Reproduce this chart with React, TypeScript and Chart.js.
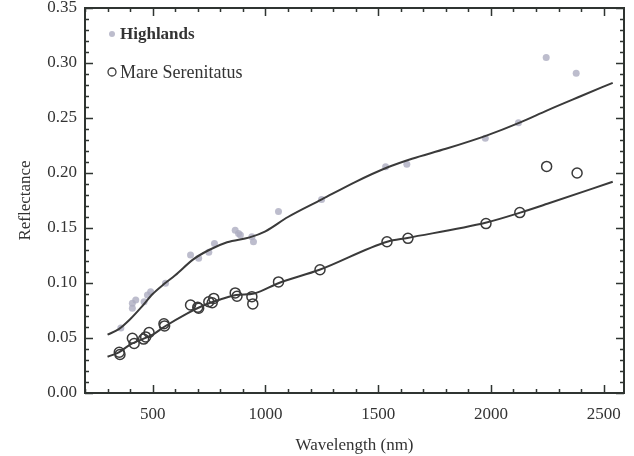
import { useEffect, useRef } from "react";
import { Chart, registerables } from "chart.js";

Chart.register(...registerables);

// Measured reflectance points
const highlandsX = [359, 410, 410, 425, 462, 477, 491, 557, 668, 704, 749, 774, 866, 881, 889, 940, 947, 1058, 1249, 1533, 1627, 1975, 2122, 2245, 2378];
const highlandsY = [0.059, 0.0815, 0.077, 0.0845, 0.083, 0.089, 0.092, 0.0997, 0.1255, 0.1224, 0.128, 0.136, 0.148, 0.145, 0.1436, 0.142, 0.1375, 0.165, 0.176, 0.2057, 0.208, 0.2315, 0.2457, 0.305, 0.2906];

const mareX = [352, 355, 410, 418, 460, 469, 484, 550, 553, 668, 700, 704, 749, 764, 771, 866, 874, 940, 944, 1058, 1242, 1539, 1632, 1978, 2128, 2247, 2382];
const mareY = [0.037, 0.035, 0.0497, 0.045, 0.049, 0.051, 0.055, 0.063, 0.061, 0.080, 0.078, 0.077, 0.083, 0.082, 0.086, 0.091, 0.088, 0.0876, 0.081, 0.101, 0.112, 0.1375, 0.1406, 0.154, 0.164, 0.206, 0.200];

// Fitted curves
const highlandsFitX = [300, 350, 400, 450, 500, 550, 600, 680, 750, 830, 930, 1000, 1100, 1250, 1400, 1540, 1650, 1800, 1980, 2130, 2250, 2400, 2540];
const highlandsFitY = [0.053, 0.058, 0.067, 0.078, 0.090, 0.099, 0.107, 0.1215, 0.130, 0.137, 0.1415, 0.147, 0.160, 0.176, 0.192, 0.205, 0.213, 0.222, 0.234, 0.246, 0.257, 0.270, 0.282];

const mareFitX = [300, 350, 400, 500, 550, 650, 730, 800, 870, 950, 1060, 1240, 1540, 1630, 1980, 2130, 2250, 2540];
const mareFitY = [0.033, 0.037, 0.044, 0.053, 0.060, 0.072, 0.080, 0.085, 0.089, 0.0905, 0.100, 0.112, 0.1375, 0.141, 0.155, 0.164, 0.172, 0.192];

// Axis tick labels
const xTickValues = [500, 1000, 1500, 2000, 2500];
const yTickValues = [0, 0.05, 0.1, 0.15, 0.2, 0.25, 0.3, 0.35];

const legendLabels = ["Highlands", "Mare Serenitatus"];
const xTitle = "Wavelength (nm)";
const yTitle = "Reflectance";

const SERIF = "'Liberation Serif', 'DejaVu Serif', serif";
const INK = "#2f3431";
const TEXT = "#333333";
const HL_COLOR = "rgba(172,172,192,0.8)";

const toPts = (xs: number[], ys: number[]) => xs.map((x, i) => ({ x, y: ys[i] }));

const framePlugin = {
  id: "frameTicks",
  afterDraw(chart: any) {
    const { ctx, chartArea: a, scales } = chart;
    const x = scales.x;
    const y = scales.y;
    ctx.save();
    ctx.strokeStyle = INK;
    ctx.lineWidth = 2;
    ctx.strokeRect(a.left, a.top, a.right - a.left, a.bottom - a.top);
    ctx.lineWidth = 1.5;
    ctx.beginPath();
    for (let v = Math.ceil(x.min / 100) * 100; v <= x.max; v += 100) {
      const px = Math.round(x.getPixelForValue(v)) + 0.5;
      const len = v % 500 === 0 ? 8 : 4;
      ctx.moveTo(px, a.bottom);
      ctx.lineTo(px, a.bottom - len);
      ctx.moveTo(px, a.top);
      ctx.lineTo(px, a.top + len);
    }
    for (let i = 0; i <= 35; i++) {
      const py = Math.round(y.getPixelForValue(i / 100)) + 0.5;
      const len = i % 5 === 0 ? 8 : 4;
      ctx.moveTo(a.left, py);
      ctx.lineTo(a.left + len, py);
      ctx.moveTo(a.right, py);
      ctx.lineTo(a.right - len, py);
    }
    ctx.stroke();
    ctx.restore();
  },
};

const legendPlugin = {
  id: "insideLegend",
  afterDraw(chart: any) {
    const { ctx, chartArea: a } = chart;
    ctx.save();
    ctx.textBaseline = "middle";
    ctx.textAlign = "left";
    const lx = a.left + 27;
    const y1 = a.top + 26;
    const y2 = a.top + 64;
    ctx.beginPath();
    ctx.fillStyle = HL_COLOR;
    ctx.arc(lx, y1, 3, 0, Math.PI * 2);
    ctx.fill();
    ctx.beginPath();
    ctx.strokeStyle = "#3a3a3a";
    ctx.lineWidth = 1.3;
    ctx.arc(lx, y2, 4, 0, Math.PI * 2);
    ctx.stroke();
    ctx.fillStyle = TEXT;
    ctx.font = `bold 17px ${SERIF}`;
    ctx.fillText(legendLabels[0], lx + 8, y1 + 1);
    ctx.font = `18px ${SERIF}`;
    ctx.fillText(legendLabels[1], lx + 8, y2 + 1);
    ctx.restore();
  },
};

export default function App() {
  const ref = useRef<HTMLCanvasElement | null>(null);

  useEffect(() => {
    if (!ref.current) return;
    const chart = new Chart(ref.current, {
      type: "scatter",
      data: {
        datasets: [
          {
            label: legendLabels[0] + " fit",
            data: toPts(highlandsFitX, highlandsFitY),
            showLine: true,
            pointRadius: 0,
            borderColor: "#3a3a3a",
            borderWidth: 2,
            cubicInterpolationMode: "monotone",
          } as any,
          {
            label: legendLabels[1] + " fit",
            data: toPts(mareFitX, mareFitY),
            showLine: true,
            pointRadius: 0,
            borderColor: "#3a3a3a",
            borderWidth: 2,
            cubicInterpolationMode: "monotone",
          } as any,
          {
            label: legendLabels[0],
            data: toPts(highlandsX, highlandsY),
            pointRadius: 3.5,
            backgroundColor: HL_COLOR,
            borderWidth: 0,
          },
          {
            label: legendLabels[1],
            data: toPts(mareX, mareY),
            pointRadius: 5,
            backgroundColor: "rgba(0,0,0,0)",
            borderColor: "#3a3a3a",
            borderWidth: 1.5,
          },
        ],
      },
      options: {
        animation: false,
        responsive: true,
        maintainAspectRatio: false,
        layout: { padding: { top: 8, right: 10, left: 0, bottom: 0 } },
        plugins: { legend: { display: false }, tooltip: { enabled: false } },
        scales: {
          x: {
            type: "linear",
            min: 200,
            max: 2590,
            grid: { display: false, drawTicks: false },
            border: { display: false },
            afterBuildTicks: (s: any) => {
              s.ticks = xTickValues.map((v) => ({ value: v }));
            },
            ticks: {
              padding: 11,
              color: TEXT,
              font: { family: SERIF, size: 17 },
              callback: (v: any) => String(v),
              maxRotation: 0,
              autoSkip: false,
            },
            title: {
              display: true,
              text: xTitle,
              color: TEXT,
              font: { family: SERIF, size: 17 },
              padding: { top: 0, bottom: 0 },
            },
            afterFit: (s: any) => {
              s.height = 63;
              s.paddingLeft = 0;
              s.paddingRight = 0;
            },
          },
          y: {
            type: "linear",
            min: 0,
            max: 0.35,
            grid: { display: false, drawTicks: false },
            border: { display: false },
            afterBuildTicks: (s: any) => {
              s.ticks = yTickValues.map((v) => ({ value: v }));
            },
            ticks: {
              padding: 8,
              color: TEXT,
              font: { family: SERIF, size: 17 },
              callback: (v: any) => Number(v).toFixed(2),
              autoSkip: false,
            },
            title: {
              display: true,
              text: yTitle,
              color: TEXT,
              font: { family: SERIF, size: 17 },
              padding: { top: 15, bottom: 0 },
            },
            afterFit: (s: any) => {
              s.width = 85;
              s.paddingTop = 0;
              s.paddingBottom = 0;
            },
          },
        },
      },
      plugins: [framePlugin, legendPlugin],
    });
    return () => chart.destroy();
  }, []);

  return (
    <div style={{ position: "absolute", left: 0, top: 0, width: 634, height: 456, background: "#fff" }}>
      <canvas ref={ref} />
    </div>
  );
}
